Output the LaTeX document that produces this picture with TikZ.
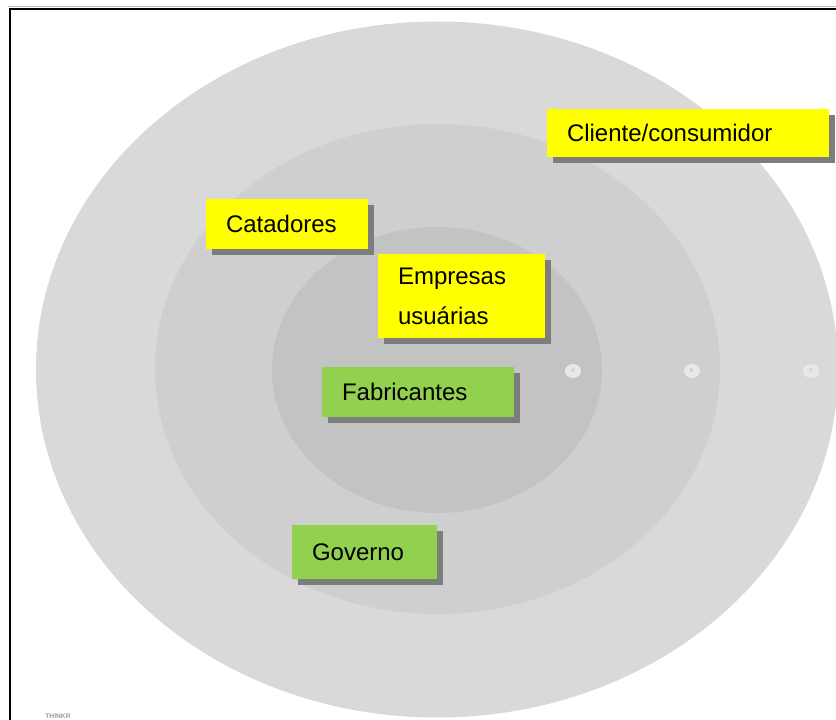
\documentclass[tikz,border=0pt]{standalone}
\usepackage{fontspec}
\setmainfont{Liberation Sans}
\usetikzlibrary{shadows,shapes.geometric}
\definecolor{outerc}{RGB}{217,217,217}
\definecolor{midc}{RGB}{207,207,207}
\definecolor{innerc}{RGB}{195,195,195}
\definecolor{yboxc}{RGB}{255,255,0}
\definecolor{gboxc}{RGB}{146,208,80}
\definecolor{shadowc}{RGB}{125,125,125}
\definecolor{dotc}{RGB}{232,232,232}
\tikzset{
  labelbox/.style={draw=none, inner xsep=15pt, inner ysep=0pt, align=left,
    font=\fontsize{18}{21}\selectfont,
    drop shadow={shadow xshift=4.5pt, shadow yshift=-4.5pt, fill=shadowc, opacity=1}},
  ybox/.style={labelbox, fill=yboxc},
  gbox/.style={labelbox, fill=gboxc},
  ringdot/.style={ellipse, fill=dotc, minimum width=12pt, minimum height=10.5pt, inner sep=0pt,
    font=\fontsize{4}{4}\selectfont, text=black!30}
}
\begin{document}
\begin{tikzpicture}[x=0.75pt,y=-0.75pt]
\useasboundingbox (0,0) rectangle (836,720);
\begin{scope}
\clip (0,0) rectangle (836,720);
\fill[outerc] (437,369.5) ellipse [x radius=401, y radius=348];
\fill[midc] (437.5,369) ellipse [x radius=282.5, y radius=245];
\fill[innerc] (437,370) ellipse [x radius=165, y radius=143];
\end{scope}
\draw[black!25, line width=0.75pt] (8,7) -- (836,7);
\draw[black, line width=1.5pt] (9.5,720) -- (9.5,9) -- (836,9);

\node[ringdot] (A) at (573,371) {A};
\node[ringdot] (B) at (692,371) {B};
\node[ringdot] (C) at (811,371) {C};

\node[ybox, text width=181.5pt, minimum height=36pt] (cliente) at (688,133) {Cliente/consumidor};
\node[ybox, text width=91.5pt, minimum height=37.5pt] (catadores) at (287,224) {Catadores};
\node[ybox, text width=95.25pt, minimum height=63pt, font=\fontsize{18}{30}\selectfont] (empresas) at (461.5,296) {Empresas\\usuárias};
\node[gbox, text width=114pt, minimum height=37.5pt] (fabricantes) at (418,392) {Fabricantes};
\node[gbox, text width=78.75pt, minimum height=40.5pt] (governo) at (364.5,552) {Governo};

\node[font=\fontsize{5}{5}\selectfont\bfseries, text=black!40] (wm) at (58,716) {THINKR};
\end{tikzpicture}
\end{document}
